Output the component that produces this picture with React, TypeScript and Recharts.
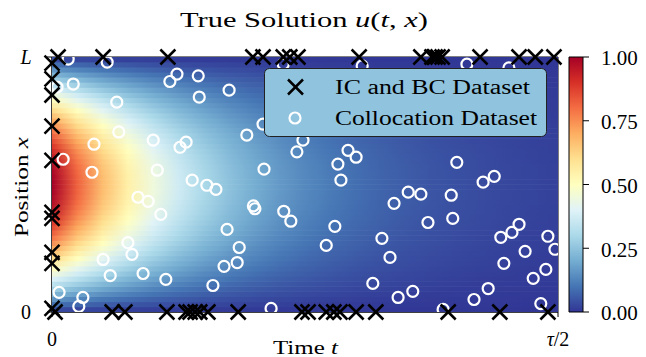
import React from 'react';
import { ComposedChart, Scatter, XAxis, YAxis, ReferenceLine, Legend, BarChart, Bar } from 'recharts';

const FONT = "'Liberation Serif', 'Times New Roman', serif";

// RdYlBu reversed, 11 anchor colours from 0 to 1
const rdylbuR = ['#313695', '#4575b4', '#74add1', '#abd9e9', '#e0f3f8', '#ffffbf', '#fee090', '#fdae61', '#f46d43', '#d73027', '#a50026'];
const colorTicks = [0, 0.25, 0.5, 0.75, 1];

// amplitude of the solution along time (fraction of tau/2)
const decayT = [0, 0.05, 0.1, 0.15, 0.2, 0.25, 0.3, 0.35, 0.4, 0.45, 0.5, 0.55, 0.6, 0.65, 0.7, 0.75, 0.8, 0.85, 0.9, 0.95, 1];
const decayU = [1.0, 0.819, 0.67, 0.549, 0.449, 0.368, 0.301, 0.247, 0.202, 0.165, 0.135, 0.111, 0.091, 0.074, 0.061, 0.05, 0.041, 0.033, 0.027, 0.022, 0.018];

// initial profile along position (fraction of L)
const rowX = [
  0.01, 0.03, 0.05, 0.07, 0.09, 0.11, 0.13, 0.15, 0.17, 0.19, 0.21, 0.23, 0.25, 0.27, 0.29, 0.31, 0.33, 0.35, 0.37, 0.39, 0.41, 0.43, 0.45, 0.47, 0.49,
  0.51, 0.53, 0.55, 0.57, 0.59, 0.61, 0.63, 0.65, 0.67, 0.69, 0.71, 0.73, 0.75, 0.77, 0.79, 0.81, 0.83, 0.85, 0.87, 0.89, 0.91, 0.93, 0.95, 0.97, 0.99,
];
const rowProfile = [
  0.0314, 0.0941, 0.1564, 0.2181, 0.279, 0.3387, 0.3971, 0.454, 0.509, 0.5621, 0.6129, 0.6613, 0.7071, 0.7501, 0.7902, 0.8271, 0.8607, 0.891, 0.9178, 0.9409, 0.9603, 0.9759, 0.9877, 0.9956, 0.9995,
  0.9995, 0.9956, 0.9877, 0.9759, 0.9603, 0.9409, 0.9178, 0.891, 0.8607, 0.8271, 0.7902, 0.7501, 0.7071, 0.6613, 0.6129, 0.5621, 0.509, 0.454, 0.3971, 0.3387, 0.279, 0.2181, 0.1564, 0.0941, 0.0314,
];

// IC points (t = 0) and BC points (x = 0, x = L)
const icX = [0.976, 0.914, 0.851, 0.729, 0.595, 0.391, 0.367, 0.234, 0.191, 0.014];
const bcBottomT = [0.006, 0.119, 0.144, 0.227, 0.265, 0.273, 0.283, 0.292, 0.308, 0.368, 0.494, 0.506, 0.542, 0.557, 0.569, 0.601, 0.64, 0.783, 0.885, 0.98];
const bcTopT = [0.012, 0.101, 0.229, 0.397, 0.417, 0.457, 0.47, 0.486, 0.607, 0.729, 0.751, 0.757, 0.763, 0.771, 0.846, 0.923, 0.955, 0.992];

// collocation points
const collocT = [
  0.032, 0.109, 0.233, 0.01, 0.042, 0.128, 0.132, 0.2, 0.083, 0.022, 0.208, 0.079, 0.247, 0.289, 0.291, 0.35, 0.457, 0.417, 0.385, 0.265, 0.253,
  0.419, 0.277, 0.306, 0.324, 0.484, 0.496, 0.613, 0.585, 0.601, 0.565, 0.571, 0.82, 0.903, 0.8, 0.852, 0.874, 0.17, 0.19, 0.215, 0.15, 0.158,
  0.101, 0.18, 0.115, 0.225, 0.014, 0.061, 0.053, 0.398, 0.401, 0.458, 0.472, 0.346, 0.37, 0.366, 0.34, 0.318, 0.433, 0.704, 0.729, 0.789, 0.676,
  0.559, 0.542, 0.652, 0.668, 0.743, 0.792, 0.634, 0.713, 0.684, 0.887, 0.909, 0.923, 0.98, 0.994, 0.935, 0.893, 0.976, 0.951, 0.862, 0.834, 0.966, 0.773,
];
const collocX = [
  0.992, 0.98, 0.904, 0.882, 0.894, 0.823, 0.706, 0.674, 0.658, 0.599, 0.556, 0.548, 0.933, 0.926, 0.843, 0.87, 0.972, 0.737, 0.694, 0.666, 0.646,
  0.56, 0.517, 0.497, 0.481, 0.628, 0.674, 0.965, 0.634, 0.607, 0.58, 0.517, 0.972, 0.957, 0.587, 0.509, 0.532, 0.45, 0.434, 0.383, 0.272, 0.226,
  0.206, 0.151, 0.143, 0.128, 0.077, 0.057, 0.022, 0.416, 0.405, 0.395, 0.356, 0.324, 0.253, 0.194, 0.179, 0.104, 0.014, 0.47, 0.462, 0.458, 0.426,
  0.336, 0.261, 0.289, 0.214, 0.351, 0.367, 0.112, 0.081, 0.057, 0.293, 0.312, 0.344, 0.297, 0.246, 0.238, 0.191, 0.167, 0.132, 0.092, 0.049, 0.033, 0.01,
];

const PLOT = { left: 52, top: 57, width: 506, height: 255 };
const ROW_H = PLOT.height / rowX.length;

const hexRgb = (h: string) => [1, 3, 5].map((i) => parseInt(h.slice(i, i + 2), 16));
function cmap(v: number) {
  const p = Math.max(0, Math.min(1, v)) * 10;
  const i = Math.min(9, Math.floor(p));
  const f = p - i;
  const a = hexRgb(rdylbuR[i]);
  const b = hexRgb(rdylbuR[i + 1]);
  return `rgb(${a.map((c, k) => Math.round(c + (b[k] - c) * f)).join(',')})`;
}

const heatRows = rowX.map((x, r) => ({ t: 0.5, x, row: r }));
const icbc = [
  ...icX.map((x) => ({ t: 0, x })),
  ...bcBottomT.map((t) => ({ t, x: 0 })),
  ...bcTopT.map((t) => ({ t, x: 1 })),
];
const colloc = collocT.map((t, i) => ({ t, x: collocX[i] }));

const HeatRow = (props: any) => {
  const { cx, cy, payload } = props;
  return (
    <rect
      x={cx - PLOT.width / 2}
      y={cy - ROW_H / 2 - 0.3}
      width={PLOT.width}
      height={ROW_H + 0.6}
      fill={`url(#heat-row-${payload.row})`}
      clipPath="url(#plot-clip)"
    />
  );
};

const Ring = (props: any) => (
  <circle cx={props.cx} cy={props.cy} r={5.5} fill="none" stroke="#fff" strokeWidth={2.2} clipPath="url(#plot-clip)" />
);

const Cross = (props: any) => {
  const { cx, cy } = props;
  const s = 7.5;
  return (
    <g stroke="#000" strokeWidth={2.5}>
      <line x1={cx - s} y1={cy - s} x2={cx + s} y2={cy + s} />
      <line x1={cx - s} y1={cy + s} x2={cx + s} y2={cy - s} />
    </g>
  );
};

const TimeTick = (props: any) => {
  const { x, payload } = props;
  return (
    <text x={x} y={346} textAnchor="middle" fontFamily={FONT} fontSize={20} fill="#000">
      {payload.value === 0 ? '0' : <><tspan fontStyle="italic">τ</tspan>/2</>}
    </text>
  );
};

const PosTick = (props: any) => {
  const { y, payload } = props;
  return (
    <text x={26} y={y + 6.5} textAnchor="middle" fontFamily={FONT} fontSize={20} fill="#000" fontStyle={payload.value === 0 ? 'normal' : 'italic'}>
      {payload.value === 0 ? '0' : 'L'}
    </text>
  );
};

const LegendBox = () => (
  <svg width={284} height={70} style={{ display: 'block' }}>
    <rect x={0.5} y={0.5} width={282} height={68} rx={5} fill="#8fc3de" stroke="#222" strokeWidth={1} />
    <g stroke="#000" strokeWidth={2.5}>
      <line x1={24} y1={11.5} x2={39} y2={26.5} />
      <line x1={24} y1={26.5} x2={39} y2={11.5} />
    </g>
    <circle cx={31} cy={50} r={5.5} fill="none" stroke="#fff" strokeWidth={2.2} />
    <text x={71} y={25.5} fontFamily={FONT} fontSize={20} fill="#000" textLength={195} lengthAdjust="spacingAndGlyphs">IC and BC Dataset</text>
    <text x={71} y={56.5} fontFamily={FONT} fontSize={20} fill="#000" textLength={202} lengthAdjust="spacingAndGlyphs">Collocation Dataset</text>
  </svg>
);

export default function App() {
  return (
    <div style={{ position: 'absolute', left: 0, top: 0, width: 646, height: 357, background: '#fff' }}>
      <svg width={0} height={0} style={{ position: 'absolute' }}>
        <defs>
          {rowProfile.map((p, r) => (
            <linearGradient key={r} id={`heat-row-${r}`} x1="0" y1="0" x2="1" y2="0">
              {decayT.map((t, k) => (
                <stop key={k} offset={t} stopColor={cmap(p * decayU[k])} />
              ))}
            </linearGradient>
          ))}
          <linearGradient id="cbar" x1="0" y1="1" x2="0" y2="0">
            {rdylbuR.map((c, i) => (
              <stop key={i} offset={i / 10} stopColor={c} />
            ))}
          </linearGradient>
          <clipPath id="plot-clip">
            <rect x={PLOT.left} y={PLOT.top} width={PLOT.width} height={PLOT.height} />
          </clipPath>
        </defs>
      </svg>

      <div style={{ position: 'absolute', left: 0, top: 0 }}>
        <ComposedChart width={646} height={357} margin={{ top: 57, right: 88, bottom: 0, left: 0 }}>
          <XAxis type="number" dataKey="t" domain={[0, 1]} ticks={[0, 1]} height={45} tickSize={5} stroke="#000" tick={<TimeTick />} />
          <YAxis type="number" dataKey="x" domain={[0, 1]} ticks={[0, 1]} width={52} tickSize={5} stroke="#000" tick={<PosTick />} />
          <Scatter data={heatRows} shape={HeatRow} isAnimationActive={false} legendType="none" />
          <ReferenceLine y={1} stroke="#000" />
          <ReferenceLine x={1} stroke="#000" />
          <ReferenceLine x={0} stroke="#000" />
          <ReferenceLine y={0} stroke="#000" />
          <Scatter name="Collocation Dataset" data={colloc} shape={Ring} isAnimationActive={false} />
          <Scatter name="IC and BC Dataset" data={icbc} shape={Cross} isAnimationActive={false} />
          <Legend
            layout="horizontal"
            verticalAlign="middle"
            align="center"
            wrapperStyle={{ left: 264, top: 68, width: 284, height: 70 }}
            content={() => <LegendBox />}
          />
        </ComposedChart>
      </div>

      <div style={{ position: 'absolute', left: 560, top: 0 }}>
        <BarChart width={86} height={357} data={[{ v: 1 }]} margin={{ top: 57, right: 0, bottom: 45, left: 9 }} barCategoryGap={0}>
          <XAxis hide />
          <YAxis
            orientation="right"
            type="number"
            domain={[0, 1]}
            ticks={colorTicks}
            width={63}
            axisLine={false}
            tickSize={6}
            tickMargin={12}
            tickLine={{ stroke: '#000' }}
            tickFormatter={(v: number) => v.toFixed(2)}
            tick={{ fill: '#000', fontFamily: FONT, fontSize: 21, textAnchor: 'start', dy: 1 }}
          />
          <Bar dataKey="v" fill="url(#cbar)" stroke="#000" strokeWidth={1} isAnimationActive={false} />
        </BarChart>
      </div>

      <svg width={646} height={357} style={{ position: 'absolute', left: 0, top: 0, pointerEvents: 'none' }}>
        <text x={304} y={27} textAnchor="middle" fontFamily={FONT} fontSize={21} fill="#000" textLength={248} lengthAdjust="spacingAndGlyphs">
          True Solution <tspan fontStyle="italic">u</tspan>(<tspan fontStyle="italic">t</tspan>, <tspan fontStyle="italic">x</tspan>)
        </text>
        <text x={305.5} y={354} textAnchor="middle" fontFamily={FONT} fontSize={19} fill="#000" textLength={65} lengthAdjust="spacingAndGlyphs">
          Time <tspan fontStyle="italic">t</tspan>
        </text>
        <text
          x={0}
          y={0}
          transform="translate(28 187) rotate(-90)"
          textAnchor="middle"
          fontFamily={FONT}
          fontSize={19}
          fill="#000"
          textLength={100}
          lengthAdjust="spacingAndGlyphs"
        >
          Position <tspan fontStyle="italic">x</tspan>
        </text>
      </svg>
    </div>
  );
}
